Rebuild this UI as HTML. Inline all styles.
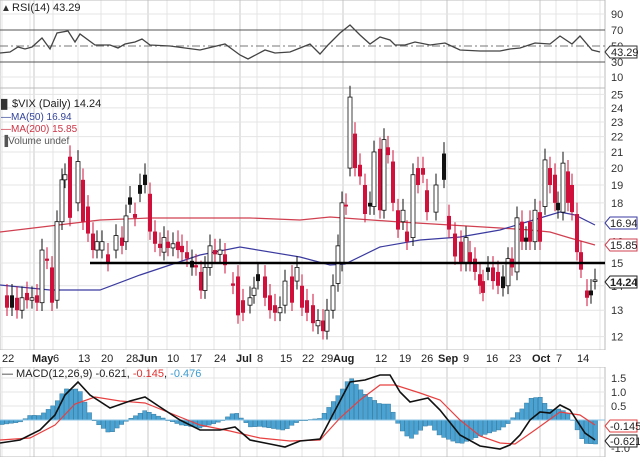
<!DOCTYPE html>
<html><head><meta charset="utf-8"><style>
body{margin:0;background:#fff;width:640px;height:457px;overflow:hidden;font-family:"Liberation Sans",sans-serif}
svg text{font-family:"Liberation Sans",sans-serif}
</style></head><body>
<svg id="s" width="640" height="457" viewBox="0 0 640 457" xmlns="http://www.w3.org/2000/svg"></svg>
<script>
const S=document.getElementById('s');let h='';
const R=605;
// grid verticals (weekly)
const weeks=[2,30,53,78,101,126,148,167,190,214,240,257,280,302,323,343,375,399,421,447,463,486,509,540,556,577,600];
const months=[34,148,240,343,447,540];
for(const x of weeks){h+=`<line x1="${x}" y1="0" x2="${x}" y2="457" stroke="#e4e4e4"/>`}
for(const x of months){h+=`<line x1="${x}" y1="0" x2="${x}" y2="457" stroke="#c8c8c8"/>`}
// panel borders
h+=`<rect x="0" y="0" width="${R}" height="88" fill="none" stroke="#bbb"/>`;
h+=`<rect x="0" y="88" width="${R}" height="262" fill="none" stroke="#bbb"/>`;
h+=`<rect x="0" y="367" width="${R}" height="90" fill="none" stroke="#bbb"/>`;
h+=`<rect x="0" y="350" width="640" height="17" fill="#fff"/>`;
// RSI
for(const [v,y] of [[90,14],[70,30],[50,46],[30,62],[10,77]]){
 if(v==70||v==30)h+=`<line x1="0" y1="${y}" x2="${R}" y2="${y}" stroke="#555" stroke-width="1"/>`;
 else if(v==50)h+=`<line x1="0" y1="${y}" x2="${R}" y2="${y}" stroke="#777" stroke-dasharray="8,3,2,3"/>`;
 else h+=`<line x1="0" y1="${y}" x2="${R}" y2="${y}" stroke="#e4e4e4"/>`;
 h+=`<text x="611" y="${y+4}" font-size="11" fill="#333">${v}</text>`;
}
const rsi=[[0,53],[10,52],[18,47],[25,49],[32,47],[42,38],[50,49],[57,33],[68,31],[75,42],[80,34],[95,45],[110,45],[118,48],[125,44],[135,42],[142,39],[150,45],[170,46],[185,48],[200,50],[225,44],[240,55],[248,59],[265,50],[275,53],[290,52],[300,48],[310,44],[320,54],[328,45],[340,33],[350,25],[360,35],[370,44],[380,37],[390,40],[395,45],[405,45],[415,42],[430,45],[445,43],[460,50],[480,51],[500,51],[510,49],[520,48],[535,43],[550,44],[560,36],[572,44],[580,36],[592,50],[600,52]];
h+=`<polyline points="${rsi.map(p=>p.join(',')).join(' ')}" fill="none" stroke="#444" stroke-width="1.3"/>`;
h+=`<text x="12" y="11" font-size="11" fill="#222">RSI(14) 43.29</text><text x="1" y="11" font-size="10" fill="#333">&#x25B2;</text>`;
h+=`<path d="M605,52 L610,46 L637,46 L637,58 L610,58Z" fill="#fff" stroke="#333"/><text x="611" y="56" font-size="11" fill="#222">43.29</text>`;
// price
const py=p=>263-330*(Math.log(p)-Math.log(15));
for(let v=12;v<=25;v++){const y=py(v);h+=`<line x1="0" y1="${y}" x2="${R}" y2="${y}" stroke="#e4e4e4"/>`;h+=`<text x="611" y="${y+4}" font-size="11" fill="#333">${v}</text>`}
function L(pts,c){return `<polyline points="${pts.map(p=>p.join(',')).join(' ')}" fill="none" stroke="${c}" stroke-width="1.2"/>`}
h+=L([[0,232],[100,220],[150,218],[250,218],[300,220],[330,217],[400,222],[450,225],[500,228],[530,230],[550,232],[570,238],[595,245]],'#d04050');
h+=L([[0,285],[50,290],[100,290],[140,275],[200,255],[240,247],[300,257],[330,265],[345,264],[380,247],[420,240],[460,237],[500,230],[540,218],[560,212],[575,215],[595,225]],'#3a3aa0');
const C=[[7,13.6,13.1,'r'],[12,13.1,13.6,'k'],[17,13.5,13.0,'r'],[22,13.0,13.5,'w'],[27,13.7,13.4,'r'],[32,13.4,13.5,'w'],[37,13.6,13.3,'r'],[42,13.3,15.6,'w'],[47,15.2,15.1,'r'],[52,14.8,13.3,'r'],[57,13.4,17.0,'w'],[62,17.0,19.3,'w'],[65,19.3,19.6,'w'],[70,20.7,17.2,'r'],[78,18.0,20.4,'w'],[83,19.3,17.0,'r'],[88,17.8,16.4,'r'],[93,16.4,15.6,'r'],[97,15.6,16.0,'w'],[102,15.6,16.0,'w'],[108,15.4,15.0,'r'],[116,15.6,16.3,'w'],[122,16.2,15.8,'r'],[126,16.0,17.3,'w'],[130,17.9,18.3,'k'],[135,17.4,17.2,'r'],[140,18.5,19.0,'k'],[145,19.0,19.6,'k'],[150,18.5,16.5,'r'],[155,16.5,15.9,'r'],[160,15.9,15.7,'r'],[164,15.5,16.2,'w'],[168,16.0,15.7,'r'],[173,15.7,15.9,'w'],[178,16.0,15.6,'r'],[182,15.8,15.5,'r'],[187,15.5,15.2,'r'],[192,15.1,14.8,'k'],[196,14.9,14.8,'r'],[201,14.6,13.8,'r'],[205,13.8,14.8,'w'],[210,14.8,15.8,'w'],[215,15.6,15.4,'r'],[220,15.4,15.6,'w'],[225,15.4,14.9,'r'],[233,14.1,14.0,'r'],[238,14.4,12.8,'r'],[243,13.4,12.9,'r'],[250,13.2,13.5,'w'],[254,13.6,13.9,'w'],[258,14.5,14.2,'k'],[265,14.4,13.5,'r'],[270,13.6,13.0,'r'],[275,13.2,12.9,'r'],[280,12.9,13.1,'w'],[285,13.2,14.2,'w'],[292,14.4,13.3,'r'],[297,14.2,14.8,'w'],[302,14.0,13.1,'r'],[307,13.4,12.9,'r'],[313,13.2,12.5,'r'],[318,12.4,12.6,'w'],[323,12.6,12.2,'r'],[327,12.2,13.0,'w'],[333,13.0,14.0,'w'],[338,14.1,15.8,'w'],[342,15.0,18.0,'w'],[346,17.9,17.8,'r'],[350,20.0,24.8,'w'],[355,22.2,20.0,'r'],[360,20.2,19.5,'r'],[365,19.0,17.4,'r'],[370,17.8,18.0,'k'],[374,17.8,21.0,'w'],[380,21.2,17.6,'r'],[384,17.6,21.8,'w'],[388,21.3,20.8,'r'],[393,20.4,18.0,'r'],[398,17.6,16.6,'r'],[403,17.0,17.6,'w'],[407,16.5,16.0,'r'],[413,16.2,19.6,'w'],[418,20.0,19.0,'r'],[423,20.0,19.6,'r'],[427,18.7,17.5,'r'],[436,17.5,19.0,'w'],[444,20.9,19.3,'k'],[449,17.3,16.6,'r'],[455,16.4,15.3,'r'],[461,16.0,15.0,'r'],[466,15.0,16.2,'w'],[470,15.5,15.0,'r'],[475,15.2,14.6,'r'],[480,14.5,14.0,'r'],[483,14.2,13.7,'r'],[488,14.8,14.6,'k'],[493,14.8,14.2,'r'],[498,14.6,14.0,'r'],[503,14.4,13.9,'k'],[508,14.0,15.2,'w'],[512,15.2,14.8,'r'],[517,14.6,17.2,'w'],[522,17.0,16.0,'r'],[526,16.2,16.0,'k'],[530,17.0,16.0,'r'],[535,16.0,17.6,'w'],[540,17.5,16.0,'r'],[545,17.8,20.5,'w'],[550,20.0,19.0,'r'],[555,19.6,18.0,'r'],[558,18.0,17.6,'k'],[563,17.5,20.3,'w'],[568,19.8,18.0,'r'],[572,19.0,17.5,'r'],[577,17.4,15.5,'r'],[581,15.5,14.7,'r'],[587,13.8,13.5,'r'],[591,13.8,13.6,'k'],[595,14.2,14.25,'w']];
for(const [x,o,c,t] of C){const hi=Math.max(o,c)*1.035,lo=Math.min(o,c)*0.975;
 const col=t=='r'?'#d0103a':'#111';
 h+=`<line x1="${x}" y1="${py(hi)}" x2="${x}" y2="${py(lo)}" stroke="${col}" stroke-width="1"/>`;
 const y1=py(Math.max(o,c)),y2=py(Math.min(o,c));const hh=Math.max(1.5,y2-y1);
 h+=`<rect x="${x-2}" y="${y1}" width="4" height="${hh}" fill="${t=='w'?'#fff':col}" stroke="${col}" stroke-width="${t=='w'?0.8:0}"/>`;}
h+=`<line x1="90" y1="${py(15)}" x2="${R}" y2="${py(15)}" stroke="#000" stroke-width="2.5"/>`;
h+=`<text x="12" y="107" font-size="11" fill="#222">$VIX (Daily) 14.24</text><text x="1" y="107" font-size="9" fill="#333">&#x2588;</text>`;
h+=`<text x="1" y="120" font-size="10" fill="#334499">&#x2014;MA(50) 16.94</text>`;
h+=`<text x="1" y="132" font-size="10" fill="#cc3344">&#x2014;MA(200) 15.85</text>`;
h+=`<text x="1" y="144" font-size="10" fill="#555">&#x2590;Volume undef</text>`;
function tag(y,t,c){h+=`<path d="M605,${y} L610,${y-6} L637,${y-6} L637,${y+6} L610,${y+6}Z" fill="#fff" stroke="${c}"/><text x="610" y="${y+4}" font-size="11" fill="#222" ${c=='#222'?'font-weight="bold"':''}>${t}</text>`}
tag(223,'16.94','#3a3aa0');tag(245,'15.85','#d04050');tag(282,'14.24','#222');
// date labels
const dl=[[2,'22'],[32,'May',1],[53,'6'],[78,'13'],[101,'20'],[126,'28'],[138,'Jun',1],[167,'10'],[190,'17'],[214,'24'],[236,'Jul',1],[257,'8'],[280,'15'],[302,'22'],[321,'29'],[333,'Aug',1],[375,'12'],[399,'19'],[421,'26'],[438,'Sep',1],[463,'9'],[486,'16'],[509,'23'],[532,'Oct',1],[556,'7'],[577,'14']];
for(const [x,t,b] of dl)h+=`<text x="${x}" y="362" font-size="11" fill="#222" ${b?'font-weight="bold"':''}>${t}</text>`;
// MACD
for(const [v,y] of [['1.5',378],['1.0',392],['0.5',406],['-1.0',448]]){h+=`<line x1="0" y1="${y}" x2="${R}" y2="${y}" stroke="#e4e4e4"/><text x="611" y="${y+4}" font-size="11" fill="#333">${v}</text>`}
const M=[[0,443],[20,440],[40,430],[55,415],[65,395],[78,382],[90,395],[110,408],[130,401],[145,397],[160,407],[180,420],[200,430],[220,430],[235,427],[250,440],[270,444],[285,447],[300,441],[320,439],[330,420],[350,382],[365,380],[380,375],[390,375],[400,392],[410,402],[428,398],[440,410],[460,435],[480,446],[500,449],[510,445],[520,435],[530,420],[540,412],[550,413],[560,405],[570,410],[585,433],[595,440]];
const G=[[0,440],[30,438],[55,425],[75,404],[95,397],[120,401],[145,403],[170,413],[200,425],[230,431],[260,438],[290,441],[320,440],[340,418],[360,400],[380,385],[395,385],[420,393],[440,400],[460,420],[480,436],[500,443],[515,444],[535,430],[560,412],[580,415],[595,425]];
const ip=(A,x)=>{for(let i=1;i<A.length;i++)if(x<=A[i][0]){const a=A[i-1],b=A[i];return a[1]+(b[1]-a[1])*(x-a[0])/(b[0]-a[0])}return A[A.length-1][1]};
for(let x=2;x<=598;x+=4.6){const d=(ip(G,x)-ip(M,x))*1.6;const y=d>0?420-d:420;h+=`<rect x="${x-2}" y="${y}" width="4.2" height="${Math.max(0.8,Math.abs(d))}" fill="#4aa3d3" stroke="#2a6f95" stroke-width="0.4"/>`}
h+=`<line x1="0" y1="420" x2="${R}" y2="420" stroke="#8cc4e4"/>`;
h+=L(G,'#e84040');
h+=`<polyline points="${M.map(p=>p.join(',')).join(' ')}" fill="none" stroke="#111" stroke-width="1.6"/>`;
h+=`<text x="2" y="377" font-size="11" fill="#222">&#x2014; MACD(12,26,9) -0.621, <tspan fill="#e03030">-0.145</tspan>, <tspan fill="#3a9bd0">-0.476</tspan></text>`;
h+=`<path d="M605,426 L610,420 L637,420 L637,432 L610,432Z" fill="#fff" stroke="#e04040"/><text x="610" y="430" font-size="11" fill="#222">-0.145</text>`;
h+=`<path d="M605,441 L610,435 L637,435 L637,447 L610,447Z" fill="#fff" stroke="#222"/><text x="610" y="445" font-size="11" fill="#222">-0.621</text>`;
S.innerHTML=h;
</script>
</body></html>
